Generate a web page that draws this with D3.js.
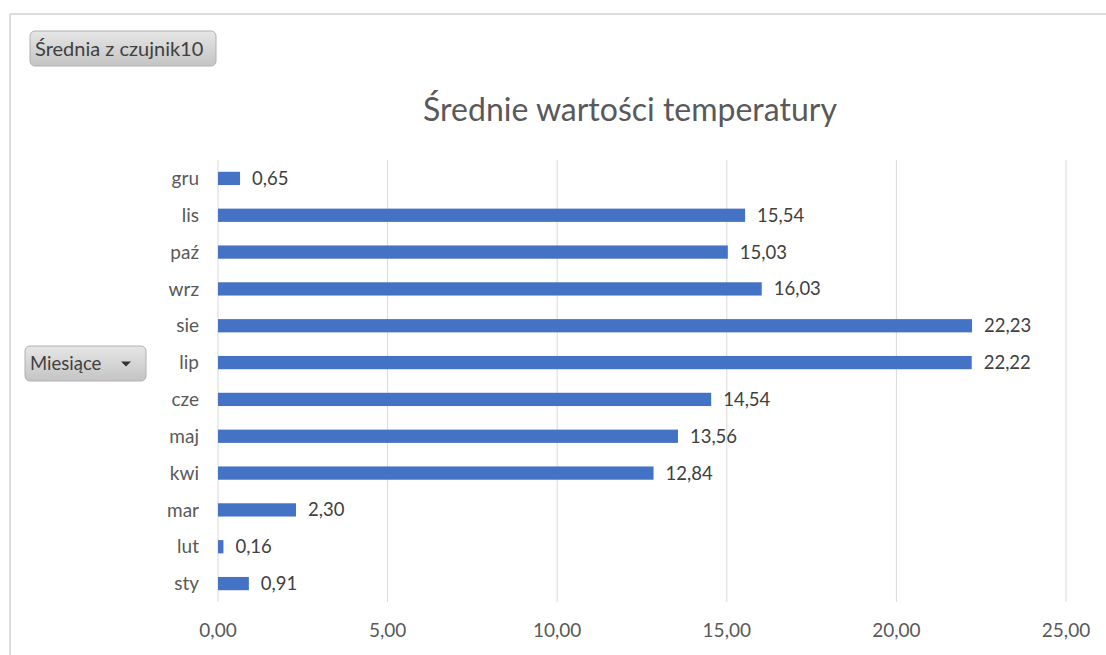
<!DOCTYPE html>
<html>
<head>
<meta charset="utf-8">
<script src="https://cdn.jsdelivr.net/npm/d3@7"></script>
<style>
  body { margin: 0; background: #fff; }
  text { font-family: Lato, "Open Sans", sans-serif; }
</style>
</head>
<body>
<script>
// months from top to bottom as drawn
var months = ["gru", "lis", "paź", "wrz", "sie", "lip", "cze", "maj", "kwi", "mar", "lut", "sty"];
var values = [0.65, 15.54, 15.03, 16.03, 22.23, 22.22, 14.54, 13.56, 12.84, 2.30, 0.16, 0.91];
var ticks = [0, 5, 10, 15, 20, 25];

var width = 1106, height = 655;
var margin = {top: 160, right: 40, bottom: 53, left: 218};

var svg = d3.select("body").append("svg")
    .attr("width", width)
    .attr("height", height);

var defs = svg.append("defs");
var grad = defs.append("linearGradient")
    .attr("id", "btn").attr("x1", 0).attr("y1", 0).attr("x2", 0).attr("y2", 1);
grad.append("stop").attr("offset", "0%").attr("stop-color", "#e6e6e6");
grad.append("stop").attr("offset", "100%").attr("stop-color", "#c4c4c4");

// chart frame (top and left edges visible)
svg.append("line")
    .attr("x1", 10).attr("y1", 14).attr("x2", width).attr("y2", 14)
    .attr("stroke", "#dcdcdc").attr("stroke-width", 2);
svg.append("line")
    .attr("x1", 10).attr("y1", 14).attr("x2", 10).attr("y2", height)
    .attr("stroke", "#dcdcdc").attr("stroke-width", 2);

var x = d3.scaleLinear()
    .domain([0, 25])
    .range([margin.left, 1066]);

var y = d3.scaleBand()
    .domain(months)
    .range([margin.top, height - margin.bottom])
    .paddingInner(0.64)
    .paddingOuter(0.32);

// gridlines
svg.append("g")
    .selectAll("line")
    .data(ticks)
  .enter().append("line")
    .attr("x1", function(d) { return x(d); })
    .attr("x2", function(d) { return x(d); })
    .attr("y1", margin.top)
    .attr("y2", height - margin.bottom)
    .attr("stroke", "#d9d9d9")
    .attr("stroke-width", 1);

// x tick labels
var fmt = function(d) { return d3.format(".2f")(d).replace(".", ","); };
svg.append("g")
    .selectAll("text")
    .data(ticks)
  .enter().append("text")
    .attr("x", function(d) { return x(d); })
    .attr("y", 637)
    .attr("text-anchor", "middle")
    .attr("font-size", 19)
    .attr("fill", "#595959")
    .text(fmt);

// category labels
svg.append("g")
    .selectAll("text")
    .data(months)
  .enter().append("text")
    .attr("x", 199)
    .attr("y", function(d) { return y(d) + y.bandwidth() / 2; })
    .attr("dy", "0.35em")
    .attr("text-anchor", "end")
    .attr("font-size", 19)
    .attr("fill", "#595959")
    .text(function(d) { return d; });

// bars
svg.append("g")
    .selectAll("rect")
    .data(values)
  .enter().append("rect")
    .attr("x", x(0))
    .attr("y", function(d, i) { return y(months[i]); })
    .attr("width", function(d) { return x(d) - x(0); })
    .attr("height", y.bandwidth())
    .attr("fill", "#4472c4");

// value labels
svg.append("g")
    .selectAll("text")
    .data(values)
  .enter().append("text")
    .attr("x", function(d) { return x(d) + 12; })
    .attr("y", function(d, i) { return y(months[i]) + y.bandwidth() / 2; })
    .attr("dy", "0.35em")
    .attr("font-size", 18.5)
    .attr("fill", "#404040")
    .text(fmt);

// title
svg.append("text")
    .attr("x", 630)
    .attr("y", 121)
    .attr("text-anchor", "middle")
    .attr("font-size", 32)
    .attr("fill", "#595959")
    .text("Średnie wartości temperatury");

// field buttons
function button(bx, by, bw, bh, label, size, arrow) {
  var g = svg.append("g");
  g.append("rect")
      .attr("x", bx).attr("y", by)
      .attr("width", bw).attr("height", bh)
      .attr("rx", 5)
      .attr("fill", "url(#btn)")
      .attr("stroke", "#b0b0b0");
  g.append("text")
      .attr("x", bx + 5)
      .attr("y", by + bh / 2)
      .attr("dy", "0.35em")
      .attr("font-size", size)
      .attr("fill", "#404040")
      .text(label);
  if (arrow) {
    var ax = bx + bw - 20, ay = by + bh / 2;
    g.append("path")
        .attr("d", "M" + (ax - 5) + "," + (ay - 2) + "L" + (ax + 5) + "," + (ay - 2) + "L" + ax + "," + (ay + 3) + "Z")
        .attr("fill", "#333");
  }
}
button(30, 31, 186, 35, "Średnia z czujnik10", 20, false);
button(25, 346, 121, 35, "Miesiące", 18.5, true);
</script>
</body>
</html>
